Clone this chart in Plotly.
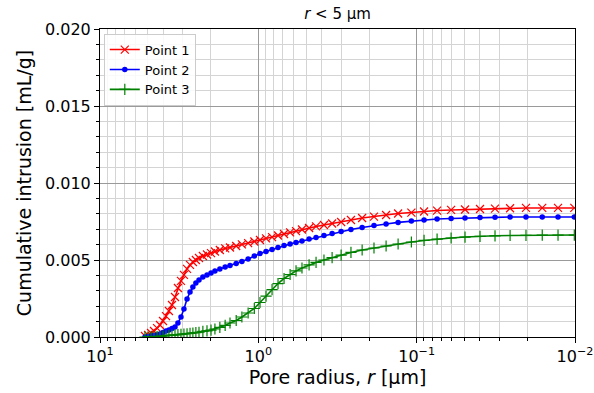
import plotly.graph_objects as go

# Pore radius r [µm] (shared pressure steps)
radius = [5.20, 4.97, 4.76, 4.56, 4.36, 4.18, 4.00, 3.83, 3.67, 3.51,
          3.36, 3.22, 3.08, 2.95, 2.82, 2.70, 2.59, 2.48, 2.37, 2.24,
          2.11, 1.99, 1.88, 1.75, 1.62, 1.51, 1.38, 1.27, 1.16, 1.06,
          0.976, 0.894, 0.819, 0.751, 0.688, 0.630, 0.578, 0.530, 0.478, 0.432,
          0.385, 0.342, 0.300, 0.260, 0.221, 0.186, 0.156, 0.131, 0.108, 0.0898,
          0.0743, 0.0606, 0.0495, 0.0398, 0.0320, 0.0257, 0.0204, 0.0161, 0.0128, 0.0101]

point1 = [0.000065, 0.00013, 0.00026, 0.00039, 0.00058, 0.00078, 0.00104, 0.00136, 0.00169, 0.00208,
          0.00260, 0.00318, 0.00364, 0.00403, 0.00442, 0.00468, 0.00487, 0.00500, 0.00513, 0.00526,
          0.00536, 0.00545, 0.00555, 0.00565, 0.00575, 0.00581, 0.00591, 0.00601, 0.00610, 0.00620,
          0.00630, 0.00640, 0.00649, 0.00659, 0.00669, 0.00679, 0.00688, 0.00698, 0.00708, 0.00718,
          0.00727, 0.00737, 0.00747, 0.00760, 0.00773, 0.00782, 0.00792, 0.00802, 0.00808, 0.00815,
          0.00821, 0.00825, 0.00828, 0.00831, 0.00834, 0.00836, 0.00838, 0.00838, 0.00838, 0.00838]

point2 = [0.0, 0.00003, 0.000065, 0.0001, 0.00013, 0.000195, 0.00029, 0.00039, 0.00045, 0.00055,
          0.00065, 0.00091, 0.00130, 0.00182, 0.00247, 0.00292, 0.00325, 0.00351, 0.00370, 0.00390,
          0.00403, 0.00416, 0.00429, 0.00442, 0.00455, 0.00464, 0.00477, 0.00490, 0.00506, 0.00526,
          0.00542, 0.00555, 0.00568, 0.00581, 0.00594, 0.00604, 0.00614, 0.00623, 0.00636, 0.00646,
          0.00659, 0.00672, 0.00685, 0.00698, 0.00711, 0.00724, 0.00734, 0.00744, 0.00753, 0.00760,
          0.00766, 0.00769, 0.00773, 0.00776, 0.00777, 0.00779, 0.00779, 0.00779, 0.00779, 0.00779]

point3 = [0.0, 0.0, 0.0, 0.000013, 0.00003, 0.000045, 0.000065, 0.00008, 0.0001, 0.00012,
          0.00013, 0.00015, 0.00017, 0.000195, 0.00021, 0.00023, 0.00026, 0.00029, 0.00031, 0.00036,
          0.0004, 0.00045, 0.00052, 0.00062, 0.00075, 0.00091, 0.00107, 0.0013, 0.00156, 0.00185,
          0.00224, 0.00266, 0.00308, 0.00347, 0.0038, 0.00406, 0.00429, 0.00448, 0.00468, 0.00484,
          0.0050, 0.00516, 0.00532, 0.00549, 0.00565, 0.00578, 0.00591, 0.00604, 0.00617, 0.00627,
          0.00636, 0.00643, 0.00649, 0.00654, 0.00657, 0.00659, 0.0066, 0.00661, 0.00662, 0.00662]

x_tickvals = [10, 1, 0.1, 0.01]
x_ticktext = ["10<sup>1</sup>", "10<sup>0</sup>", "10<sup>\u22121</sup>", "10<sup>\u22122</sup>"]
y_tickvals = [0.0, 0.005, 0.010, 0.015, 0.020]

FONT = "DejaVu Sans"

fig = go.Figure()
fig.add_trace(go.Scatter(x=radius, y=point1, mode="lines+markers", name="Point 1",
                         line=dict(color="#ff0000", width=1.6),
                         marker=dict(symbol="x-thin-open", size=8, line=dict(color="#ff0000", width=1.2))))
fig.add_trace(go.Scatter(x=radius, y=point2, mode="lines+markers", name="Point 2",
                         line=dict(color="#0000ff", width=1.6),
                         marker=dict(symbol="circle", size=5.5, color="#0000ff")))
fig.add_trace(go.Scatter(x=radius, y=point3, mode="lines+markers", name="Point 3",
                         line=dict(color="#008000", width=1.6),
                         marker=dict(symbol="cross-thin-open", size=8, line=dict(color="#008000", width=1.2))))

fig.update_layout(
    width=594, height=393,
    margin=dict(l=100, r=19, t=29, b=56, autoexpand=False),
    paper_bgcolor="white", plot_bgcolor="white",
    font=dict(family=FONT, size=16, color="black"),
    title=dict(text="<i>r</i> &lt; 5 \u00b5m", x=0.5, xref="paper", xanchor="center",
               y=0.964, yref="container", yanchor="middle", font=dict(size=15)),
    showlegend=True,
    legend=dict(x=0.008, y=0.985, xanchor="left", yanchor="top",
                bgcolor="rgba(255,255,255,0.85)", bordercolor="#cccccc", borderwidth=1,
                font=dict(size=13), tracegroupgap=0),
)

fig.update_xaxes(
    type="log", range=[1, -2], automargin=False,
    tickvals=x_tickvals, ticktext=x_ticktext,
    ticks="outside", ticklen=5, tickwidth=1, tickcolor="black",
    showline=True, linecolor="black", linewidth=1, mirror=True,
    showgrid=True, gridcolor="#9a9a9a", gridwidth=1,
    minor=dict(dtick="D1", ticks="outside", ticklen=3, tickcolor="black",
               showgrid=True, gridcolor="#d4d4d4", gridwidth=0.8),
    title=dict(text="Pore radius, <i>r</i> [\u00b5m]", standoff=4),
    tickfont=dict(size=16), zeroline=False,
)
fig.update_yaxes(
    range=[0, 0.020], automargin=False,
    tickvals=y_tickvals, tickformat=".3f",
    ticks="outside", ticklen=5, tickwidth=1, tickcolor="black",
    showline=True, linecolor="black", linewidth=1, mirror=True,
    showgrid=True, gridcolor="#9a9a9a", gridwidth=1,
    minor=dict(dtick=0.001, ticks="outside", ticklen=3, tickcolor="black",
               showgrid=True, gridcolor="#d4d4d4", gridwidth=0.8),
    title=dict(text="Cumulative intrusion [mL/g]", standoff=8),
    tickfont=dict(size=16), zeroline=False,
)

fig.write_html("out.html")
